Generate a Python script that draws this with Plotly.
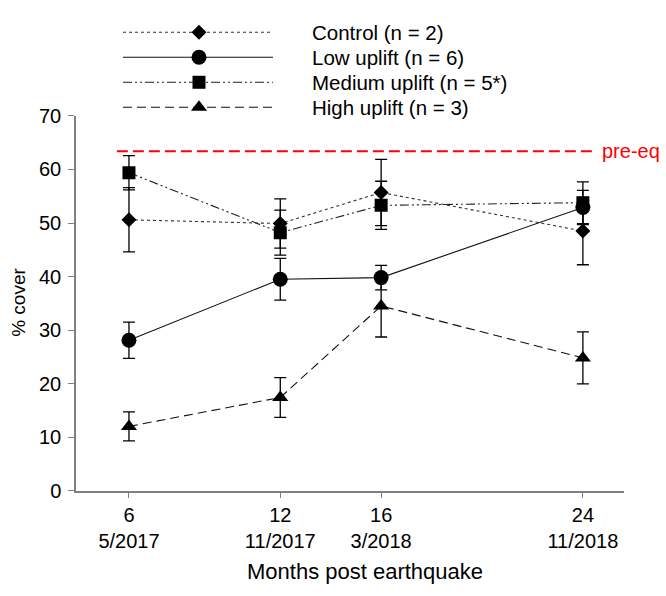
import plotly.graph_objects as go

# ---------------- data ----------------
months = [6, 12, 16, 24]
tick_labels = ["6<br>5/2017", "12<br>11/2017", "16<br>3/2018", "24<br>11/2018"]

series_names = ["Control (n = 2)", "Low uplift (n = 6)", "Medium uplift (n = 5*)", "High uplift (n = 3)"]
control = [50.6, 49.9, 55.7, 48.5]
control_err = [6.0, 4.6, 6.2, 6.3]
low = [28.1, 39.5, 39.8, 52.9]
low_err = [3.4, 3.9, 2.3, 3.2]
medium = [59.4, 48.2, 53.3, 53.8]
medium_err = [3.2, 4.2, 4.5, 3.9]
high = [12.0, 17.4, 34.5, 24.8]
high_err = [2.7, 3.7, 5.8, 4.85]

pre_eq = 63.4
pre_eq_span = [5.52, 24.42]

# ---------------- styles ----------------
FONT = "Liberation Sans, Arial, sans-serif"
W, H = 666, 596
styles = [
    dict(dash="dot", symbol="diamond", size=11.5, color="#333333"),
    dict(dash="solid", symbol="circle", size=15, color="#111111"),
    dict(dash="9px,3px,2px,3px,2px,3px", symbol="square", size=13, color="#222222"),
    dict(dash="9px,5px", symbol="triangle-up", size=14, color="#111111"),
]
values = [control, low, medium, high]
errors = [control_err, low_err, medium_err, high_err]

fig = go.Figure()

for name, y, e, st in zip(series_names, values, errors, styles):
    fig.add_trace(go.Scatter(
        x=months, y=y, name=name, mode="lines+markers",
        line=dict(color=st["color"], width=1.1, dash=st["dash"]),
        marker=dict(symbol=st["symbol"], size=st["size"], color="black",
                    line=dict(width=0)),
        error_y=dict(type="data", array=e, visible=True, color="black",
                     thickness=1.3, width=6),
        showlegend=False, xaxis="x", yaxis="y",
    ))

# pre-earthquake reference line
fig.add_trace(go.Scatter(
    x=pre_eq_span, y=[pre_eq, pre_eq], mode="lines",
    line=dict(color="#ff0000", width=2, dash="11px,5px"),
    showlegend=False, hoverinfo="skip", xaxis="x", yaxis="y",
))
fig.add_annotation(x=pre_eq_span[1], y=pre_eq, xref="x", yref="y",
                   text="pre-eq", showarrow=False, xanchor="left", yanchor="middle",
                   xshift=7, font=dict(family=FONT, size=20, color="#ff0000"))

# ---------------- manual legend (pixel axes x2/y2) ----------------
leg_rows = [22, 48, 74, 100]
leg_line = [123, 273]
leg_marker_x = 199
leg_text_x = 310
for name, st, ry in zip(series_names, styles, leg_rows):
    fig.add_trace(go.Scatter(
        x=leg_line, y=[ry, ry], mode="lines",
        line=dict(color=st["color"], width=1.1, dash=st["dash"]),
        showlegend=False, hoverinfo="skip", xaxis="x2", yaxis="y2",
    ))
    fig.add_trace(go.Scatter(
        x=[leg_marker_x], y=[ry], mode="markers",
        marker=dict(symbol=st["symbol"], size=st["size"], color="black", line=dict(width=0)),
        showlegend=False, hoverinfo="skip", xaxis="x2", yaxis="y2",
    ))
    fig.add_annotation(x=leg_text_x, y=ry, xref="x2", yref="y2", text=name,
                       showarrow=False, xanchor="left", yanchor="middle",
                       font=dict(family=FONT, size=20.5, color="black"))

# axis titles
fig.add_annotation(x=365 / W, y=1 - 582 / H, xref="paper", yref="paper",
                   text="Months post earthquake", showarrow=False,
                   xanchor="center", yanchor="middle",
                   font=dict(family=FONT, size=22, color="black"))
fig.add_annotation(x=19 / W, y=1 - 303 / H, xref="paper", yref="paper",
                   text="% cover", showarrow=False, textangle=-90,
                   xanchor="center", yanchor="middle",
                   font=dict(family=FONT, size=19, color="black"))

axis_col = "#808080"
fig.update_layout(
    width=W, height=H, autosize=False,
    margin=dict(l=0, r=0, t=0, b=0, pad=0),
    paper_bgcolor="white", plot_bgcolor="rgba(0,0,0,0)",
    font=dict(family=FONT, size=20, color="black"),
    xaxis=dict(domain=[76 / W, 624 / W], range=[3.9, 25.63], anchor="y",
               tickvals=months, ticktext=tick_labels,
               showline=True, linecolor=axis_col, linewidth=1.5,
               ticks="outside", ticklen=6, tickcolor=axis_col, tickwidth=1.2,
               showgrid=False, zeroline=False,
               tickfont=dict(family=FONT, size=20, color="black")),
    yaxis=dict(domain=[1 - 498 / H, 1 - 109 / H], range=[0, 70], anchor="x",
               tickvals=[0, 10, 20, 30, 40, 50, 60, 70],
               showline=True, linecolor=axis_col, linewidth=1.5,
               ticks="outside", ticklen=6, tickcolor=axis_col, tickwidth=1.2,
               ticklabelstandoff=3,
               showgrid=False, zeroline=False,
               tickfont=dict(family=FONT, size=20, color="black")),
    xaxis2=dict(domain=[0, 1], range=[0, W], anchor="y2", visible=False, fixedrange=True),
    yaxis2=dict(domain=[0, 1], range=[H, 0], anchor="x2", visible=False, fixedrange=True),
)

fig.write_html("out.html", config={"displayModeBar": False},
               post_script="document.body.style.margin='0';document.body.style.overflow='hidden';")
